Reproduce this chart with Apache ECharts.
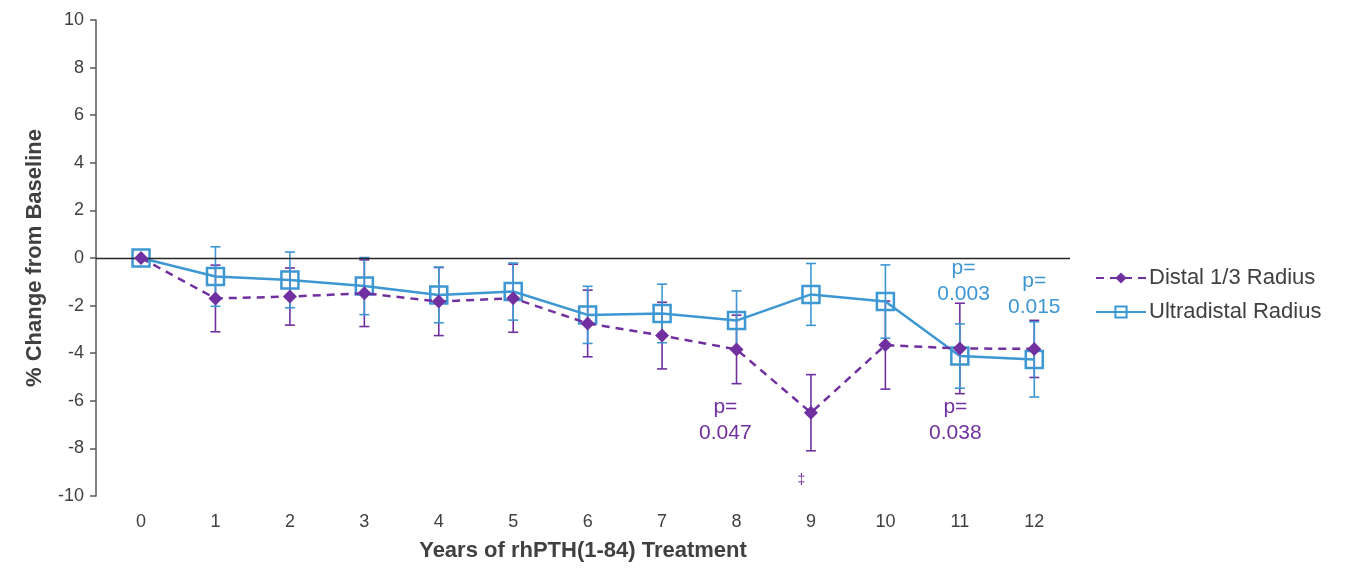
<!DOCTYPE html>
<html><head><meta charset="utf-8">
<script src="https://cdn.jsdelivr.net/npm/echarts@6/dist/echarts.min.js"></script>
<style>html,body{margin:0;padding:0;background:#fff}#c{width:1358px;height:577px}</style>
</head><body><div id="c"></div>
<script>
const years = [0,1,2,3,4,5,6,7,8,9,10,11,12];
const yTicks = [-10,-8,-6,-4,-2,0,2,4,6,8,10];
const distal = [0,-1.70,-1.62,-1.48,-1.83,-1.69,-2.75,-3.26,-3.84,-6.50,-3.66,-3.80,-3.82];
const distalErr = [0,1.40,1.20,1.40,1.43,1.43,1.40,1.40,1.44,1.60,1.85,1.90,1.20];
const ultra = [0,-0.78,-0.92,-1.18,-1.55,-1.41,-2.39,-2.33,-2.63,-1.53,-1.83,-4.12,-4.26];
const ultraErr = [0,1.25,1.17,1.20,1.17,1.20,1.20,1.23,1.25,1.30,1.54,1.35,1.58];
const annX = [7.85, 8.87, 10.94, 11.05, 12.0];
const annY = [-6.8, -9.33, -6.8, -0.97, -1.51];
const annText = ['p=\n0.047', '‡', 'p=\n0.038', 'p=\n0.003', 'p=\n0.015'];
const annSeries = ['distal', 'distal', 'distal', 'ultra', 'ultra'];

const PURPLE = '#7030a0', BLUE = '#3d97d3';
const FONT = 'Liberation Sans, Arial, sans-serif';

function errRender(color){
  return function(params, api){
    const x = api.value(0), lo = api.value(1), hi = api.value(2);
    const p1 = api.coord([x, hi]), p2 = api.coord([x, lo]);
    const w = 5;
    const st = {stroke: color, lineWidth: 1.6};
    return {type:'group', children:[
      {type:'line', shape:{x1:p1[0],y1:p1[1],x2:p2[0],y2:p2[1]}, style:st},
      {type:'line', shape:{x1:p1[0]-w,y1:p1[1],x2:p1[0]+w,y2:p1[1]}, style:st},
      {type:'line', shape:{x1:p2[0]-w,y1:p2[1],x2:p2[0]+w,y2:p2[1]}, style:st}
    ]};
  };
}
function errData(vals, errs){
  const out = [];
  for (let i=1;i<years.length;i++) out.push([years[i], vals[i]-errs[i], vals[i]+errs[i]]);
  return out;
}

const chart = echarts.init(document.getElementById('c'), null, {renderer:'canvas'});
chart.setOption({
  animation:false,
  backgroundColor:'#fff',
  grid:{left:96, top:20, right:288, bottom:81},
  legend:{
    orient:'vertical', left:1090, top:262, itemGap:12, itemWidth:50, itemHeight:14,
    data:['Distal 1/3 Radius','Ultradistal Radius'],
    textStyle:{fontSize:22, color:'#404040', fontFamily:FONT, padding:[0,0,0,-2]}
  },
  xAxis:{
    type:'value', min:-0.605, max:12.48,
    name:'Years of rhPTH(1-84) Treatment', nameLocation:'middle', nameGap:44,
    nameTextStyle:{fontSize:22, fontWeight:'bold', color:'#404040', fontFamily:FONT},
    axisLine:{show:false}, axisTick:{show:false}, splitLine:{show:false},
    axisLabel:{customValues:years, fontSize:18, color:'#404040', margin:17, fontFamily:FONT}
  },
  yAxis:{
    type:'value', min:-10, max:10, interval:2,
    name:'% Change from Baseline', nameLocation:'middle', nameGap:50, nameRotate:90,
    nameTextStyle:{fontSize:22, fontWeight:'bold', color:'#404040', fontFamily:FONT},
    axisLine:{show:true, onZero:false, lineStyle:{color:'#595959', width:1.5}},
    axisTick:{show:true, inside:false, length:6, lineStyle:{color:'#595959', width:1.5}},
    splitLine:{show:false},
    axisLabel:{fontSize:18, color:'#404040', margin:12, fontFamily:FONT}
  },
  series:[
    {
      type:'custom', name:'distalErr', renderItem:errRender(PURPLE),
      encode:{x:0, y:[1,2]}, data:errData(distal, distalErr), z:2, silent:true
    },
    {
      type:'custom', name:'ultraErr', renderItem:errRender(BLUE),
      encode:{x:0, y:[1,2]}, data:errData(ultra, ultraErr), z:3, silent:true
    },
    {
      type:'line', name:'Ultradistal Radius',
      data:years.map((x,i)=>[x, ultra[i]]),
      symbol:'rect', symbolSize:17,
      lineStyle:{color:BLUE, width:2.5},
      itemStyle:{color:'rgba(255,255,255,0)', borderColor:BLUE, borderWidth:2.5},
      z:4,
      markLine:{silent:true, symbol:'none', label:{show:false},
        lineStyle:{color:'#262626', width:1.3, type:'solid'},
        data:[{yAxis:0}]}
    },
    {
      type:'line', name:'Distal 1/3 Radius',
      data:years.map((x,i)=>[x, distal[i]]),
      symbol:'diamond', symbolSize:14,
      lineStyle:{color:PURPLE, width:2.5, type:[8,6]},
      itemStyle:{color:PURPLE},
      z:5
    },
    {
      type:'scatter', name:'annotations', symbolSize:1, silent:true,
      itemStyle:{color:'rgba(0,0,0,0)', opacity:1},
      data:annX.map((x,i)=>({
        value:[x, annY[i]],
        label:{show:true, position:'inside', formatter:annText[i],
          color: annSeries[i]==='ultra' ? BLUE : PURPLE,
          textBorderWidth:0,
          fontSize: annText[i]==='‡' ? 14 : 21, lineHeight:26, align:'center', fontFamily:FONT}
      })),
      z:6
    }
  ]
});
</script></body></html>
